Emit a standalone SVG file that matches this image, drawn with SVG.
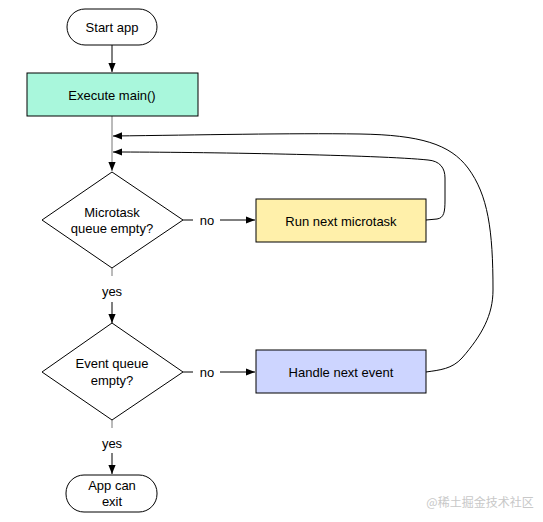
<svg xmlns="http://www.w3.org/2000/svg" width="543" height="522" viewBox="0 0 543 522">
<style>
.s{stroke:#000;stroke-width:1;}
.t{font-family:"Liberation Sans",Arial,sans-serif;font-size:13px;fill:#000;text-anchor:middle;dominant-baseline:central;}
.c{fill:none;stroke:#000;stroke-width:1;}
.g{stroke:#777;}
</style>
<defs>
<marker id="ah" viewBox="0 0 10 10" refX="10" refY="5" markerWidth="9" markerHeight="9" markerUnits="userSpaceOnUse" orient="auto">
<path d="M0,1 L10,5 L0,9 z" fill="#000"/>
</marker>
</defs>
<rect width="543" height="522" fill="#fff"/>
<g id="connectors">
<line class="c" x1="112" y1="45" x2="112" y2="72" marker-end="url(#ah)"/>
<line class="c g" x1="112" y1="116" x2="112" y2="171" marker-end="url(#ah)"/>
<path class="c" d="M426,372 C440,370 452,369 462,358 C482,335 493,315 493,290 C493,230 488,195 468,168 C450,144 420,135 360,134 C290,133 200,135 113,136" marker-end="url(#ah)"/>
<path class="c" d="M426,220 L437,219 C444,218 445,212 445,200 L445,178 C445,168 440,161 428,160 C380,155 200,152 113,152" marker-end="url(#ah)"/>
<line class="c" x1="183" y1="220" x2="193" y2="220"/>
<line class="c" x1="220" y1="220" x2="255" y2="220" marker-end="url(#ah)"/>
<line class="c" x1="183" y1="372" x2="193" y2="372"/>
<line class="c" x1="220" y1="372" x2="255" y2="372" marker-end="url(#ah)"/>
<line class="c g" x1="112" y1="268" x2="112" y2="276"/>
<line class="c" x1="112" y1="302" x2="112" y2="323" marker-end="url(#ah)"/>
<line class="c g" x1="112" y1="420" x2="112" y2="428"/>
<line class="c" x1="112" y1="453" x2="112" y2="474" marker-end="url(#ah)"/>
<text class="t" x="207" y="220">no</text>
<text class="t" x="207" y="372">no</text>
<text class="t" x="112" y="291">yes</text>
<text class="t" x="112" y="443">yes</text>
</g>
<g id="start">
<rect class="s" x="67" y="9" width="90" height="36" rx="18" fill="#fff"/>
<text class="t" x="112" y="27">Start app</text>
</g>
<g id="execute">
<rect class="s" x="27" y="73" width="171" height="43" fill="#a9f7dc"/>
<text class="t" x="112" y="95">Execute main()</text>
</g>
<g id="microtask-check">
<polygon class="s" points="112,172 183,220 112,268 42,220" fill="#fff"/>
<text class="t" x="112" y="212">Microtask</text>
<text class="t" x="112" y="228">queue empty?</text>
</g>
<g id="run-microtask">
<rect class="s" x="256" y="199" width="170" height="43" fill="#fff0aa"/>
<text class="t" x="341" y="221">Run next microtask</text>
</g>
<g id="event-check">
<polygon class="s" points="112,323 183,372 112,420 42,372" fill="#fff"/>
<text class="t" x="112" y="363">Event queue</text>
<text class="t" x="112" y="380">empty?</text>
</g>
<g id="handle-event">
<rect class="s" x="256" y="350" width="170" height="43" fill="#cdd5ff"/>
<text class="t" x="341" y="372">Handle next event</text>
</g>
<g id="exit">
<rect class="s" x="66" y="475" width="91" height="37" rx="18" fill="#fff"/>
<text class="t" x="112" y="485">App can</text>
<text class="t" x="112" y="501">exit</text>
</g>
<text x="480" y="501" style="font-family:'Noto Sans CJK SC',sans-serif;font-size:12px;fill:#c8c8c8;text-anchor:middle;dominant-baseline:central">@稀土掘金技术社区</text>
</svg>
